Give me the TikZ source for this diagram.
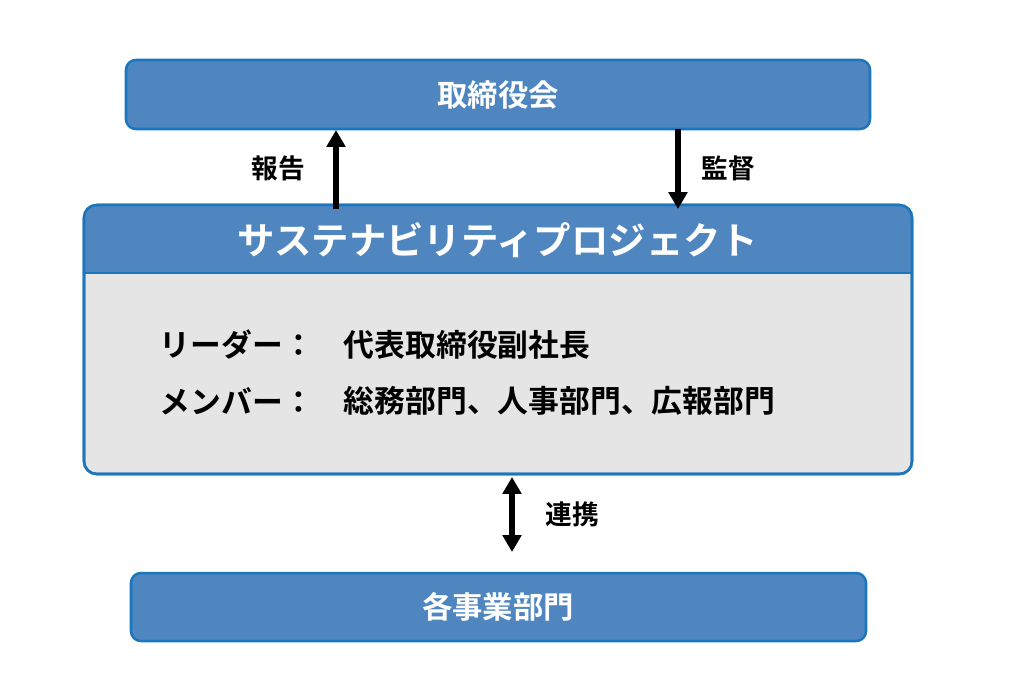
\documentclass[tikz,border=0pt]{standalone}
\usepackage{fontspec}
\setmainfont{Noto Sans CJK JP}[BoldFont={Noto Sans CJK JP Bold}]
\usetikzlibrary{arrows.meta}
\definecolor{boxfill}{HTML}{4F86BF}
\definecolor{boxline}{HTML}{1B76BD}
\definecolor{bodyfill}{HTML}{E6E5E6}
\tikzset{
  bluebox/.style={draw=boxline, fill=boxfill, line width=1.8pt, rounded corners=7pt},
  boxtext/.style={text=white, font=\bfseries\fontsize{21.6}{25}\selectfont},
  label/.style={text=black, font=\bfseries\fontsize{19}{23}\selectfont},
  bodytext/.style={text=black, anchor=west, font=\bfseries\fontsize{21.9}{25}\selectfont},
  flow/.style={line width=3.6pt, -{Triangle[width=13pt,length=12pt]}},
  bothflow/.style={line width=3.6pt, {Triangle[width=13pt,length=12pt]}-{Triangle[width=13pt,length=12pt]}},
}
\begin{document}
\begin{tikzpicture}[x=0.025cm,y=-0.025cm]
\useasboundingbox (0,0) rectangle (1024,687);
% top box
\draw[bluebox] (126,60) rectangle (870,129);
\node[boxtext] (top) at (498,94.5) {取締役会};
% middle box
\draw[draw=boxline, fill=bodyfill, line width=1.8pt, rounded corners=9pt] (84,205) rectangle (912,474);
\begin{scope}
  \clip[rounded corners=9pt] (84,205) rectangle (912,474);
  \fill[boxfill] (84,205) rectangle (912,273);
\end{scope}
\draw[boxline, line width=1.8pt] (84,273) -- (912,273);
\draw[draw=boxline, line width=1.8pt, rounded corners=9pt] (84,205) rectangle (912,474);
\node[text=white, font=\bfseries\fontsize{26.6}{30}\selectfont] (hdr) at (498,240) {サステナビリティプロジェクト};
\node[bodytext] (lead) at (155,345) {リーダー：};
\node[bodytext] (leadv) at (339,345) {代表取締役副社長};
\node[bodytext] (mem) at (155,401) {メンバー：};
\node[bodytext] (memv) at (339,401) {総務部門、人事部門、広報部門};
% bottom box
\draw[bluebox] (131,573) rectangle (866,641);
\node[boxtext] (bot) at (498,607) {各事業部門};
% arrows
\coordinate (repA) at (336,209);
\coordinate (repB) at (336,130);
\coordinate (supA) at (678,129);
\coordinate (supB) at (678,209);
\coordinate (cooA) at (512,477);
\coordinate (cooB) at (512,552);
\draw[flow] (repA) -- (repB);
\draw[flow] (supA) -- (supB);
\draw[bothflow] (cooA) -- (cooB);
\node[label] (rep) at (278,168) {報告};
\node[label] (sup) at (728,168) {監督};
\node[label] (coo) at (572,514) {連携};
\end{tikzpicture}
\end{document}
